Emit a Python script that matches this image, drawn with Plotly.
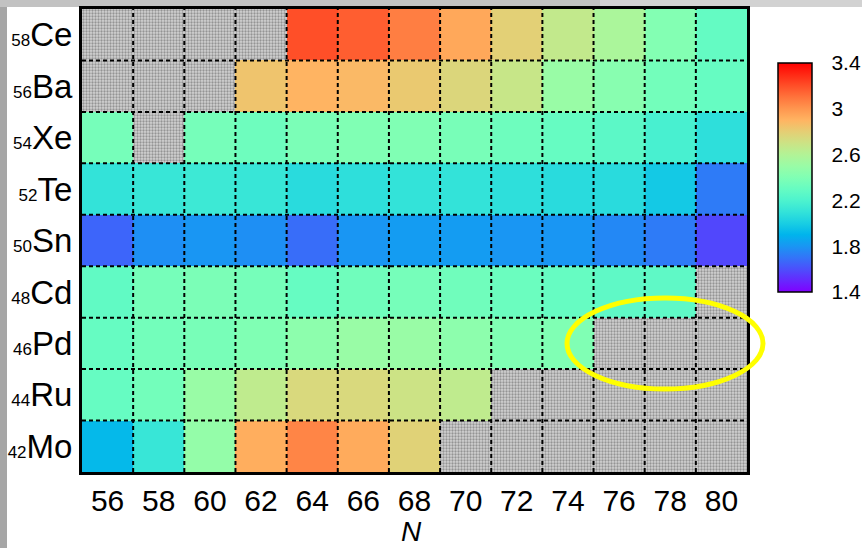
import math
import plotly.graph_objects as go

# ---------------- data ----------------
N_values = [56, 58, 60, 62, 64, 66, 68, 70, 72, 74, 76, 78, 80]
Z_values = [42, 44, 46, 48, 50, 52, 54, 56, 58]
elements = ["Mo", "Ru", "Pd", "Cd", "Sn", "Te", "Xe", "Ba", "Ce"]

NA = None
row_Mo = [1.92, 2.12, 2.48, 2.92, 3.05, 2.93, 2.78, NA, NA, NA, NA, NA, NA]
row_Ru = [2.30, 2.35, 2.50, 2.65, 2.75, 2.75, 2.70, 2.65, NA, NA, NA, NA, NA]
row_Pd = [2.30, 2.35, 2.37, 2.40, 2.45, 2.50, 2.50, 2.45, 2.40, 2.40, NA, NA, NA]
row_Cd = [2.28, 2.36, 2.38, 2.36, 2.30, 2.34, 2.36, 2.34, 2.32, 2.30, 2.27, 2.27, NA]
row_Sn = [1.66, 1.78, 1.80, 1.78, 1.68, 1.80, 1.82, 1.82, 1.80, 1.80, 1.76, 1.72, 1.58]
row_Te = [2.10, 2.12, 2.14, 2.12, 2.06, 2.08, 2.10, 2.10, 2.08, 2.06, 2.06, 1.98, 1.72]
row_Xe = [2.36, NA, 2.36, 2.33, 2.38, 2.40, 2.40, 2.37, 2.33, 2.30, 2.26, 2.18, 2.08]
row_Ba = [NA, NA, NA, 2.84, 2.90, 2.88, 2.82, 2.76, 2.68, 2.50, 2.43, 2.35, 2.30]
row_Ce = [NA, NA, NA, NA, 3.20, 3.16, 3.07, 2.94, 2.79, 2.66, 2.57, 2.41, 2.29]

z_grid = [row_Mo, row_Ru, row_Pd, row_Cd, row_Sn, row_Te, row_Xe, row_Ba, row_Ce]

cbar_tickvals = [1.4, 1.6, 1.8, 2.0, 2.2, 2.4, 2.6, 2.8, 3.0, 3.2, 3.4]
cbar_ticktext = ["1.4", "", "1.8", "", "2.2", "", "2.6", "", "3", "", "3.4"]
ZMIN, ZMAX = 1.4, 3.4
x_title = "<i>N</i>"

# ---------------- style ----------------
def rainbow(t):
    r = min(1.0, abs(2 * t - 0.5))
    g = math.sin(math.pi * t)
    b = math.cos(math.pi * t / 2)
    return "rgb(%d,%d,%d)" % (round(255 * r), round(255 * max(g, 0)), round(255 * max(b, 0)))

colorscale = [[i / 20, rainbow(i / 20)] for i in range(21)]

FONT = "Liberation Sans, Arial, sans-serif"
L, R, T, B = 82, 115, 9, 76
PW, PH = 862 - L - R, 548 - T - B

def px_x(p):
    return (p - L) / PW

def px_y(p):
    return (548 - B - p) / PH

ytext = ['<span style="font-size:17px">%d</span>%s' % (z, e) for z, e in zip(Z_values, elements)]

# missing cells -> stippled grey bars
miss_x, miss_base = [], []
for zi, row in zip(Z_values, z_grid):
    for ni, v in zip(N_values, row):
        if v is None:
            miss_x.append(ni)
            miss_base.append(zi - 1)

CB_X0, CB_X1, CB_Y0, CB_Y1 = 778, 812, 63, 292

fig = go.Figure()
fig.add_trace(go.Bar(
    x=miss_x, y=[2] * len(miss_x), base=miss_base, width=2,
    marker=dict(color="#cccccc", line=dict(width=0),
                pattern=dict(shape=".", fgcolor="#555555", bgcolor="#d2d2d2",
                             size=3, solidity=0.45)),
    showlegend=False, hoverinfo="skip",
))
fig.add_trace(go.Heatmap(
    x=N_values, y=Z_values, z=z_grid,
    colorscale=colorscale, zmin=ZMIN, zmax=ZMAX,
    hoverongaps=False,
    colorbar=dict(
        thickness=CB_X1 - CB_X0, thicknessmode="pixels",
        len=CB_Y1 - CB_Y0, lenmode="pixels",
        x=px_x(CB_X0), xanchor="left", xpad=0,
        y=px_y((CB_Y0 + CB_Y1) / 2), yanchor="middle", ypad=0,
        outlinewidth=1.5, outlinecolor="black",
        tickmode="array", tickvals=cbar_tickvals, ticktext=cbar_ticktext,
        ticks="outside", ticklen=15, tickwidth=1, tickcolor="rgba(255,255,255,0)",
        tickfont=dict(family=FONT, size=21, color="black"),
    ),
))

shapes = []
# dashed cell borders
for a, b in zip(N_values[:-1], N_values[1:]):
    xm = (a + b) / 2
    shapes.append(dict(type="line", xref="x", yref="y", x0=xm, x1=xm,
                       y0=Z_values[0] - 1, y1=Z_values[-1] + 1,
                       line=dict(color="black", width=2, dash="4px,3px"), layer="above"))
for a, b in zip(Z_values[:-1], Z_values[1:]):
    ym = (a + b) / 2
    shapes.append(dict(type="line", xref="x", yref="y", y0=ym, y1=ym,
                       x0=N_values[0] - 1, x1=N_values[-1] + 1,
                       line=dict(color="black", width=2, dash="4px,3px"), layer="above"))
# colorbar inner ticks on both sides
for v in cbar_tickvals[1:-1]:
    yp = CB_Y1 - (v - ZMIN) / (ZMAX - ZMIN) * (CB_Y1 - CB_Y0)
    for xa, xb in ((CB_X0, CB_X0 + 6), (CB_X1 - 6, CB_X1)):
        shapes.append(dict(type="line", xref="paper", yref="paper",
                           x0=px_x(xa), x1=px_x(xb), y0=px_y(yp), y1=px_y(yp),
                           line=dict(color="black", width=1.5), layer="above"))
# yellow ellipse highlight
shapes.append(dict(type="circle", xref="paper", yref="paper",
                   x0=px_x(567), x1=px_x(763), y0=px_y(389), y1=px_y(298),
                   line=dict(color="#ffff00", width=5), layer="above"))
# page background strips
shapes.append(dict(type="rect", xref="paper", yref="paper",
                   x0=px_x(0), x1=px_x(7), y0=px_y(548), y1=px_y(0),
                   fillcolor="#a6a6a6", line=dict(width=0), layer="below"))
shapes.append(dict(type="rect", xref="paper", yref="paper",
                   x0=px_x(0), x1=px_x(862), y0=px_y(7), y1=px_y(0),
                   fillcolor="#c2c2c2", line=dict(width=0), layer="below"))
shapes.append(dict(type="rect", xref="paper", yref="paper",
                   x0=px_x(600), x1=px_x(862), y0=px_y(7), y1=px_y(0),
                   fillcolor="#d2d2d2", line=dict(width=0), layer="below"))

fig.update_layout(
    width=862, height=548,
    margin=dict(l=L, r=R, t=T, b=B, autoexpand=False),
    paper_bgcolor="white", plot_bgcolor="white",
    barmode="overlay", bargap=0,
    font=dict(family=FONT, color="black"),
    shapes=shapes,
    showlegend=False,
    annotations=[dict(text=x_title, xref="paper", yref="paper",
                      x=px_x(411), y=px_y(514), xanchor="center", yanchor="top",
                      showarrow=False, font=dict(family=FONT, size=28, color="black"))],
)
fig.update_xaxes(
    range=[N_values[0] - 1, N_values[-1] + 1],
    tickmode="array", tickvals=N_values, ticktext=[str(n) for n in N_values],
    tickfont=dict(family=FONT, size=30), ticks="", showgrid=False, zeroline=False,
    showline=True, linewidth=3, linecolor="black", mirror=True,
    automargin=False,
)
fig.update_yaxes(
    range=[Z_values[0] - 1, Z_values[-1] + 1],
    tickmode="array", tickvals=Z_values, ticktext=ytext,
    tickfont=dict(family=FONT, size=33), ticks="", showgrid=False, zeroline=False,
    showline=True, linewidth=3, linecolor="black", mirror=True,
    automargin=False,
)

fig.write_html("out.html")
